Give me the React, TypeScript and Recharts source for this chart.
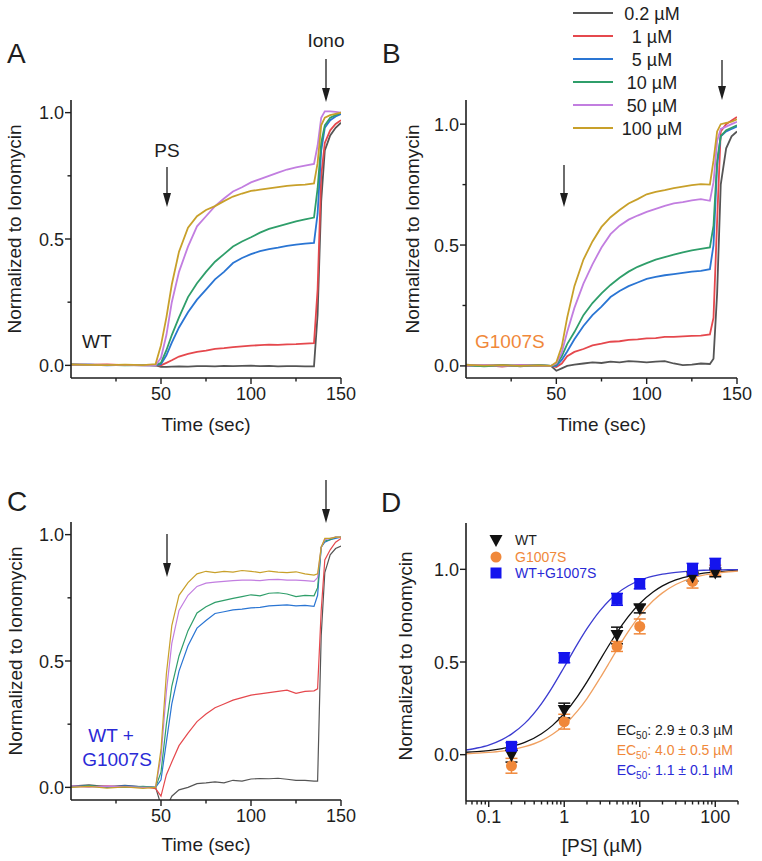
import React from 'react';
import { LineChart, Line, XAxis, YAxis, ComposedChart, Scatter, ErrorBar } from 'recharts';

const FONT = '"Liberation Sans", Arial, Helvetica, sans-serif';
const INK = '#1e1e1e';

// ---------- time-course data (panels A, B, C) ----------
const time = [0, 10, 20, 30, 40, 47, 50, 53, 56, 60, 65, 70, 75, 80, 85, 90, 95, 100, 105, 110, 115, 120, 125, 130, 135, 137, 139, 141, 144, 147, 150];

const concLabels = ['0.2 µM', '1 µM', '5 µM', '10 µM', '50 µM', '100 µM'];
const concKeys = ['c02', 'c1', 'c5', 'c10', 'c50', 'c100'];
const concColors = ['#555555', '#e5484d', '#2a75d3', '#2f9e6a', '#c27ee0', '#c8a02a'];

// Panel A – WT
const wt02 = [0.004, 0.003, 0.002, 0.001, 0.0, 0.0, -0.006, -0.006, -0.005, -0.004, -0.005, -0.003, -0.003, -0.004, -0.002, -0.003, -0.002, -0.001, -0.003, -0.002, -0.004, -0.003, -0.003, -0.004, -0.004, 0.2, 0.65, 0.85, 0.91, 0.94, 0.96];
const wt1 = [0.003, 0.002, 0.004, 0.001, 0.002, 0.0, 0.0, 0.01, 0.02, 0.035, 0.045, 0.053, 0.058, 0.065, 0.068, 0.072, 0.075, 0.078, 0.08, 0.082, 0.081, 0.083, 0.084, 0.086, 0.088, 0.3, 0.75, 0.88, 0.93, 0.955, 0.97];
const wt5 = [0.002, 0.003, 0.0, 0.002, 0.001, 0.0, 0.005, 0.04, 0.09, 0.15, 0.21, 0.26, 0.3, 0.34, 0.37, 0.405, 0.425, 0.44, 0.452, 0.46, 0.466, 0.473, 0.478, 0.482, 0.485, 0.6, 0.85, 0.94, 0.97, 0.985, 0.995];
const wt10 = [0.003, 0.001, 0.002, 0.0, 0.002, 0.0, 0.01, 0.06, 0.12, 0.19, 0.27, 0.325, 0.37, 0.41, 0.44, 0.47, 0.49, 0.507, 0.525, 0.54, 0.55, 0.56, 0.57, 0.578, 0.585, 0.7, 0.88, 0.95, 0.98, 0.99, 1.0];
const wt50 = [0.002, 0.003, 0.001, 0.002, 0.0, 0.0, 0.03, 0.12, 0.25, 0.37, 0.47, 0.55, 0.59, 0.63, 0.66, 0.688, 0.705, 0.724, 0.737, 0.75, 0.763, 0.775, 0.783, 0.79, 0.797, 0.87, 0.98, 1.005, 1.005, 1.003, 1.0];
const wt100 = [0.003, 0.002, 0.001, 0.003, 0.001, 0.005, 0.08, 0.19, 0.32, 0.45, 0.545, 0.59, 0.615, 0.63, 0.65, 0.668, 0.68, 0.69, 0.695, 0.7, 0.705, 0.71, 0.713, 0.715, 0.72, 0.8, 0.95, 0.98, 0.99, 0.995, 1.0];

// Panel B – G1007S
const g02 = [0.005, 0.0, 0.004, -0.002, 0.003, 0.0, -0.02, -0.01, 0.0, 0.005, 0.01, 0.015, 0.012, 0.018, 0.015, 0.02, 0.018, 0.015, 0.018, 0.02, 0.01, 0.003, 0.005, 0.01, 0.008, 0.03, 0.3, 0.75, 0.9, 0.95, 0.97];
const g1 = [0.0, 0.003, -0.003, 0.004, 0.0, 0.0, -0.005, 0.01, 0.04, 0.058, 0.07, 0.085, 0.092, 0.1, 0.102, 0.108, 0.11, 0.114, 0.115, 0.12, 0.12, 0.122, 0.124, 0.125, 0.13, 0.2, 0.6, 0.97, 1.0, 1.015, 1.03];
const g5 = [0.002, 0.0, 0.003, 0.001, 0.002, 0.0, 0.0, 0.025, 0.06, 0.11, 0.165, 0.21, 0.245, 0.285, 0.31, 0.33, 0.345, 0.36, 0.368, 0.375, 0.38, 0.385, 0.39, 0.393, 0.4, 0.5, 0.83, 0.95, 0.97, 0.98, 0.99];
const g10 = [0.003, -0.002, 0.002, 0.0, 0.003, 0.0, 0.005, 0.04, 0.09, 0.14, 0.21, 0.26, 0.3, 0.335, 0.365, 0.39, 0.41, 0.425, 0.44, 0.45, 0.46, 0.47, 0.478, 0.484, 0.49, 0.58, 0.85, 0.95, 0.975, 0.985, 0.995];
const g50 = [0.002, 0.004, 0.0, 0.003, 0.001, 0.0, 0.01, 0.055, 0.14, 0.24, 0.34, 0.42, 0.49, 0.545, 0.58, 0.605, 0.622, 0.637, 0.65, 0.662, 0.672, 0.678, 0.685, 0.69, 0.683, 0.76, 0.93, 0.98, 0.99, 1.0, 1.01];
const g100 = [0.004, 0.001, 0.003, 0.0, 0.002, 0.0, 0.015, 0.08, 0.2, 0.33, 0.44, 0.515, 0.575, 0.615, 0.645, 0.672, 0.69, 0.71, 0.72, 0.727, 0.735, 0.742, 0.748, 0.752, 0.75, 0.85, 0.97, 1.0, 1.005, 1.01, 1.02];

// Panel C – WT + G1007S
const m02 = [0.005, 0.01, 0.003, 0.008, 0.002, 0.0, -0.07, -0.08, -0.035, -0.01, 0.0, 0.015, 0.018, 0.022, 0.018, 0.028, 0.025, 0.033, 0.035, 0.034, 0.036, 0.032, 0.028, 0.028, 0.025, 0.025, 0.6, 0.85, 0.92, 0.945, 0.955];
const m1 = [0.004, 0.002, 0.006, 0.0, 0.003, -0.005, -0.035, 0.05, 0.1, 0.165, 0.215, 0.26, 0.29, 0.315, 0.33, 0.345, 0.355, 0.365, 0.37, 0.375, 0.38, 0.385, 0.372, 0.38, 0.382, 0.39, 0.7, 0.9, 0.94, 0.97, 0.985];
const m5 = [0.003, 0.005, 0.0, 0.006, 0.002, 0.0, 0.03, 0.18, 0.33, 0.46, 0.56, 0.63, 0.66, 0.688, 0.695, 0.702, 0.705, 0.71, 0.712, 0.718, 0.72, 0.722, 0.718, 0.72, 0.716, 0.76, 0.95, 0.97, 0.98, 0.985, 0.99];
const m10 = [0.002, 0.006, 0.003, 0.0, 0.004, 0.0, 0.06, 0.25, 0.4, 0.52, 0.62, 0.69, 0.715, 0.732, 0.74, 0.748, 0.755, 0.762, 0.758, 0.768, 0.77, 0.765, 0.755, 0.76, 0.758, 0.79, 0.95, 0.975, 0.98, 0.99, 0.99];
const m50 = [0.006, 0.002, 0.005, 0.003, 0.0, 0.0, 0.12, 0.38, 0.57, 0.7, 0.76, 0.795, 0.808, 0.812, 0.815, 0.818, 0.82, 0.82, 0.818, 0.822, 0.823, 0.82, 0.82, 0.818, 0.815, 0.83, 0.95, 0.98, 0.985, 0.99, 0.99];
const m100 = [0.0, 0.004, -0.003, 0.002, -0.004, 0.0, 0.15, 0.45, 0.64, 0.76, 0.81, 0.845, 0.855, 0.85, 0.855, 0.852, 0.858, 0.855, 0.85, 0.856, 0.852, 0.85, 0.853, 0.845, 0.84, 0.845, 0.95, 0.985, 0.985, 0.99, 0.99];

// ---------- dose-response data (panel D) ----------
const doses = [0.2, 1, 5, 10, 50, 100];
const wtMean = [-0.005, 0.238, 0.643, 0.787, 0.958, 0.98];
const wtErr = [0.035, 0.04, 0.045, 0.022, 0.022, 0.02];
const gMean = [-0.06, 0.178, 0.584, 0.692, 0.935, 0.995];
const gErr = [0.04, 0.04, 0.027, 0.04, 0.036, 0.027];
const mixMean = [0.045, 0.523, 0.838, 0.922, 1.0, 1.027];
const mixErr = [0.02, 0.027, 0.032, 0.027, 0.032, 0.032];

const fitX = [0.05, 0.07, 0.1, 0.15, 0.2, 0.3, 0.5, 0.7, 1, 1.5, 2, 3, 4, 5, 7, 10, 15, 20, 30, 50, 70, 100, 150, 200];
const wtFit = [0.013, 0.016, 0.022, 0.033, 0.044, 0.066, 0.113, 0.158, 0.222, 0.315, 0.393, 0.513, 0.597, 0.66, 0.744, 0.816, 0.878, 0.911, 0.943, 0.968, 0.979, 0.986, 0.991, 0.994];
const gFit = [0.005, 0.008, 0.012, 0.019, 0.027, 0.043, 0.076, 0.11, 0.159, 0.236, 0.303, 0.415, 0.5, 0.567, 0.662, 0.75, 0.83, 0.873, 0.918, 0.954, 0.969, 0.979, 0.987, 0.991];
const mixFit = [0.025, 0.036, 0.052, 0.081, 0.111, 0.169, 0.276, 0.366, 0.473, 0.598, 0.68, 0.779, 0.835, 0.87, 0.91, 0.941, 0.963, 0.974, 0.984, 0.992, 0.995, 0.996, 0.998, 0.998];

const timeTicks = [25, 50, 75, 100, 125, 150];
const timeMajor = [50, 100, 150];
const normTicks = [0, 0.25, 0.5, 0.75, 1];
const normMajor = [0, 0.5, 1];
const doseTicks = [0.05, 0.06, 0.07, 0.08, 0.09, 0.1, 0.2, 0.3, 0.4, 0.5, 0.6, 0.7, 0.8, 0.9, 1, 2, 3, 4, 5, 6, 7, 8, 9, 10, 20, 30, 40, 50, 60, 70, 80, 90, 100, 200];
const doseMajor = [0.1, 1, 10, 100];
const dMajorY = [0, 0.5, 1];

// ---------- helpers ----------
function buildRows(series: number[][]) {
  return time.map((t, i) => {
    const row: any = { t };
    concKeys.forEach((k, j) => { row[k] = series[j][i]; });
    return row;
  });
}
const rowsA = buildRows([wt02, wt1, wt5, wt10, wt50, wt100]);
const rowsB = buildRows([g02, g1, g5, g10, g50, g100]);
const rowsC = buildRows([m02, m1, m5, m10, m50, m100]);

const pts = (m: number[], e: number[]) => doses.map((x, i) => ({ x, y: m[i], err: e[i] }));
const fit = (ys: number[]) => fitX.map((x, i) => ({ x, y: ys[i] }));

const isIn = (arr: number[], v: number) => arr.some((a) => Math.abs(a - v) < 1e-9);

function makeXTick(majors: number[], fmt: (v: number) => string) {
  return (props: any) => {
    const { x, y, payload } = props;
    const v = payload.value;
    const major = isIn(majors, v);
    return (
      <g>
        <line x1={x} x2={x} y1={y} y2={y + (major ? 6 : 3.5)} stroke={INK} strokeWidth={1.4} />
        {major && (
          <text x={x} y={y + 22} textAnchor="middle" fontSize={18} fill={INK} fontFamily={FONT}>{fmt(v)}</text>
        )}
      </g>
    );
  };
}
function makeYTick(majors: number[]) {
  return (props: any) => {
    const { x, y, payload } = props;
    const v = payload.value;
    const major = isIn(majors, v);
    return (
      <g>
        <line x1={x} x2={x - (major ? 6 : 3.5)} y1={y} y2={y} stroke={INK} strokeWidth={1.4} />
        {major && (
          <text x={x - 7} y={y + 6.5} textAnchor="end" fontSize={18} fill={INK} fontFamily={FONT}>{v.toFixed(1)}</text>
        )}
      </g>
    );
  };
}
const xTitle = (text: string, dy: number) => ({
  content: (p: any) => {
    const vb = p.viewBox || { x: 0, y: 0, width: 0, height: 0 };
    return (
      <text x={vb.x + vb.width / 2} y={vb.y + dy} textAnchor="middle" fontSize={19} fill={INK} fontFamily={FONT}>{text}</text>
    );
  },
});
const yTitle = (text: string, cxOff: number, cyOff: number) => ({
  content: (p: any) => {
    const vb = p.viewBox || { x: 0, y: 0, width: 0, height: 0 };
    const cx = vb.x + cxOff;
    const cy = vb.y + vb.height / 2 + cyOff;
    return (
      <text x={cx} y={cy} transform={`rotate(-90 ${cx} ${cy})`} textAnchor="middle" dominantBaseline="central" fontSize={19} fill={INK} fontFamily={FONT}>{text}</text>
    );
  },
});

const axisLine = { stroke: INK, strokeWidth: 1.6 };

function TracePanel(props: { rows: any[]; left: number; top: number; width: number; height: number; mTop: number; mRight: number; yW: number; xH: number; yDomain: [number, number]; yTitleX: number; xTitleDy: number; sw: number }) {
  const p = props;
  return (
    <div style={{ position: 'absolute', left: p.left, top: p.top }}>
      <LineChart width={p.width} height={p.height} data={p.rows} margin={{ top: p.mTop, right: p.mRight, bottom: 0, left: 0 }}>
        <XAxis
          type="number"
          dataKey="t"
          domain={[0, 150]}
          ticks={timeTicks}
          interval={0}
          tickSize={0}
          tickMargin={0}
          tickLine={false}
          tick={makeXTick(timeMajor, (v) => String(v))}
          axisLine={axisLine}
          height={p.xH}
          allowDataOverflow
          label={xTitle('Time (sec)', p.xTitleDy)}
        />
        <YAxis
          type="number"
          domain={p.yDomain}
          ticks={normTicks}
          interval={0}
          tickSize={0}
          tickMargin={0}
          tickLine={false}
          tick={makeYTick(normMajor)}
          axisLine={axisLine}
          width={p.yW}
          allowDataOverflow
          label={yTitle('Normalized to Ionomycin', p.yTitleX, -10)}
        />
        {concKeys.map((k, i) => (
          <Line key={k} type="linear" dataKey={k} stroke={concColors[i]} strokeWidth={p.sw} dot={false} isAnimationActive={false} />
        ))}
      </LineChart>
    </div>
  );
}

const downTri = (color: string) => (props: any) => {
  const { cx, cy } = props;
  return <polygon points={`${cx - 6.5},${cy - 5.5} ${cx + 6.5},${cy - 5.5} ${cx},${cy + 6.5}`} fill={color} />;
};
const circ = (color: string) => (props: any) => <circle cx={props.cx} cy={props.cy} r={5.5} fill={color} />;
const sq = (color: string) => (props: any) => <rect x={props.cx - 5.5} y={props.cy - 5.5} width={11} height={11} fill={color} />;

const C_WT = '#111111';
const C_G = '#f0883a';
const C_MIX = '#1414ee';
const C_G_LINE = '#f0a060';
const C_MIX_LINE = '#3b3bd0';
const C_MIX_TEXT = '#2a2ad6';

function Arrow({ x, y1, y2 }: { x: number; y1: number; y2: number }) {
  return (
    <g>
      <line x1={x} x2={x} y1={y1} y2={y2 - 12} stroke={INK} strokeWidth={1.3} />
      <polygon points={`${x - 4},${y2 - 14} ${x + 4},${y2 - 14} ${x},${y2}`} fill={INK} />
    </g>
  );
}

const legendRows = [13, 36, 59, 82, 105, 128];

export default function App() {
  return (
    <div style={{ position: 'absolute', left: 0, top: 0, width: 762, height: 861, background: '#ffffff', overflow: 'hidden', fontFamily: FONT }}>
      <TracePanel rows={rowsA} left={0} top={0} width={380} height={440} mTop={100} mRight={39} yW={71} xH={62} yDomain={[-0.05, 1.05]} yTitleX={14.5} xTitleDy={53} sw={1.8} />
      <TracePanel rows={rowsB} left={380} top={0} width={382} height={440} mTop={100} mRight={25} yW={86} xH={62} yDomain={[-0.05, 1.1]} yTitleX={32.5} xTitleDy={53} sw={1.8} />
      <TracePanel rows={rowsC} left={0} top={430} width={380} height={430} mTop={92} mRight={39} yW={71} xH={60} yDomain={[-0.05, 1.05]} yTitleX={15.5} xTitleDy={51} sw={1.2} />

      <div style={{ position: 'absolute', left: 380, top: 430 }}>
        <ComposedChart width={382} height={430} margin={{ top: 93, right: 24, bottom: 0, left: 0 }}>
          <XAxis
            type="number"
            dataKey="x"
            scale="log"
            domain={[0.05, 200]}
            ticks={doseTicks}
            interval={0}
            tickSize={0}
            tickMargin={0}
            tickLine={false}
            tick={makeXTick(doseMajor, (v) => String(v))}
            axisLine={axisLine}
            height={59}
            allowDataOverflow
            label={xTitle('[PS] (µM)', 51)}
          />
          <YAxis
            type="number"
            domain={[-0.25, 1.25]}
            ticks={dMajorY}
            interval={0}
            tickSize={0}
            tickMargin={0}
            tickLine={false}
            tick={makeYTick(dMajorY)}
            axisLine={axisLine}
            width={86}
            allowDataOverflow
            label={yTitle('Normalized to Ionomycin', 25, -6)}
          />
          <Line data={fit(wtFit)} dataKey="y" type="monotone" stroke={C_WT} strokeWidth={1.3} dot={false} isAnimationActive={false} />
          <Line data={fit(gFit)} dataKey="y" type="monotone" stroke={C_G_LINE} strokeWidth={1.3} dot={false} isAnimationActive={false} />
          <Line data={fit(mixFit)} dataKey="y" type="monotone" stroke={C_MIX_LINE} strokeWidth={1.3} dot={false} isAnimationActive={false} />
          <Scatter data={pts(gMean, gErr)} dataKey="y" fill={C_G} shape={circ(C_G)} isAnimationActive={false}>
            <ErrorBar dataKey="err" direction="y" width={6} stroke={C_G} strokeWidth={1.5} />
          </Scatter>
          <Scatter data={pts(wtMean, wtErr)} dataKey="y" fill={C_WT} shape={downTri(C_WT)} isAnimationActive={false}>
            <ErrorBar dataKey="err" direction="y" width={6} stroke={C_WT} strokeWidth={1.5} />
          </Scatter>
          <Scatter data={pts(mixMean, mixErr)} dataKey="y" fill={C_MIX} shape={sq(C_MIX)} isAnimationActive={false}>
            <ErrorBar dataKey="err" direction="y" width={6} stroke={C_MIX} strokeWidth={1.5} />
          </Scatter>
        </ComposedChart>
      </div>

      {/* annotations */}
      <svg width={762} height={861} style={{ position: 'absolute', left: 0, top: 0, pointerEvents: 'none' }} fontFamily={FONT}>
        <text x={7} y={63} fontSize={28} fill={INK}>A</text>
        <text x={382} y={63} fontSize={28} fill={INK}>B</text>
        <text x={7} y={511} fontSize={28} fill={INK}>C</text>
        <text x={381} y={512} fontSize={28} fill={INK}>D</text>

        <text x={326} y={47} fontSize={19} fill={INK} textAnchor="middle">Iono</text>
        <Arrow x={326} y1={59} y2={102} />
        <text x={167} y={157} fontSize={19} fill={INK} textAnchor="middle">PS</text>
        <Arrow x={167} y1={167} y2={207} />
        <text x={82} y={348} fontSize={19} fill={INK}>WT</text>

        <Arrow x={722} y1={60} y2={100} />
        <Arrow x={564} y1={165} y2={207} />
        <text x={475} y={348} fontSize={19} fill={C_G}>G1007S</text>

        <Arrow x={326} y1={480} y2={523} />
        <Arrow x={167} y1={534} y2={577} />
        <text x={111} y={742} fontSize={19} fill={C_MIX_TEXT} textAnchor="middle">WT +</text>
        <text x={117} y={766} fontSize={19} fill={C_MIX_TEXT} textAnchor="middle">G1007S</text>

        {concLabels.map((lab, i) => (
          <g key={lab}>
            <line x1={573} x2={613} y1={legendRows[i]} y2={legendRows[i]} stroke={concColors[i]} strokeWidth={2} />
            <text x={652} y={legendRows[i] + 6.5} fontSize={18} fill={INK} textAnchor="middle">{lab}</text>
          </g>
        ))}

        <polygon points="489.5,535 502.5,535 496,547" fill={C_WT} />
        <text x={515} y={545} fontSize={14} fill={INK}>WT</text>
        <circle cx={496} cy={557} r={5.5} fill={C_G} />
        <text x={515} y={562} fontSize={14} fill={C_G}>G1007S</text>
        <rect x={490.5} y={567.5} width={11} height={11} fill={C_MIX} />
        <text x={515} y={578} fontSize={14} fill={C_MIX_TEXT}>WT+G1007S</text>

        <text x={733} y={735} fontSize={14} fill={INK} textAnchor="end">EC<tspan dy={4} fontSize={10}>50</tspan><tspan dy={-4}>: 2.9 ± 0.3 µM</tspan></text>
        <text x={733} y={755} fontSize={14} fill={C_G} textAnchor="end">EC<tspan dy={4} fontSize={10}>50</tspan><tspan dy={-4}>: 4.0 ± 0.5 µM</tspan></text>
        <text x={733} y={775} fontSize={14} fill={C_MIX_TEXT} textAnchor="end">EC<tspan dy={4} fontSize={10}>50</tspan><tspan dy={-4}>: 1.1 ± 0.1 µM</tspan></text>
      </svg>
    </div>
  );
}
